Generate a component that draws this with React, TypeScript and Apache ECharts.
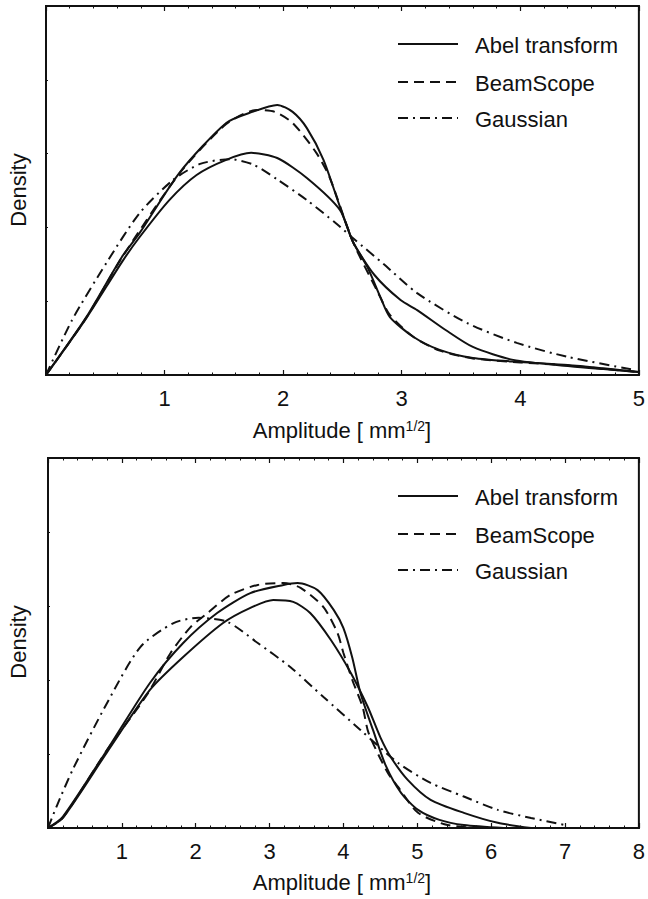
import React, { useEffect, useRef } from "react";
import * as echarts from "echarts";

// ---------- data (relative density) ----------
const topXTicks = [1, 2, 3, 4, 5];
const bottomXTicks = [1, 2, 3, 4, 5, 6, 7, 8];

const topAbelHigh: [number, number][] = [
  [0, 0], [0.34, 0.157], [0.64, 0.32], [0.79, 0.385], [1.13, 0.55], [1.52, 0.683],
  [1.74, 0.713], [1.95, 0.732], [2.08, 0.713], [2.2, 0.669], [2.34, 0.583],
  [2.48, 0.455], [2.59, 0.36], [2.71, 0.293], [2.82, 0.211], [2.9, 0.157],
  [3.1, 0.103], [3.32, 0.068], [3.6, 0.046], [4.0, 0.035], [4.4, 0.027],
  [4.7, 0.018], [5.0, 0.008],
];
const topAbelLow: [number, number][] = [
  [0, 0], [0.34, 0.154], [0.64, 0.306], [0.79, 0.374], [1.04, 0.474], [1.27, 0.542],
  [1.52, 0.583], [1.73, 0.602], [1.95, 0.588], [2.2, 0.534], [2.48, 0.447],
  [2.59, 0.36], [2.77, 0.271], [2.99, 0.203], [3.13, 0.176], [3.37, 0.122],
  [3.6, 0.076], [3.94, 0.041], [4.42, 0.024], [4.7, 0.016], [5.0, 0.008],
];
const topBeamScope: [number, number][] = [
  [0, 0], [0.34, 0.155], [0.64, 0.318], [1.13, 0.548], [1.52, 0.68], [1.78, 0.718],
  [1.93, 0.713], [2.08, 0.683], [2.28, 0.602], [2.39, 0.537], [2.59, 0.36],
  [2.79, 0.23], [2.9, 0.163], [3.1, 0.103], [3.32, 0.066], [3.6, 0.045],
  [4.0, 0.034], [4.4, 0.026], [4.7, 0.017], [5.0, 0.008],
];
const topGaussian: [number, number][] = [
  [0, 0], [0.22, 0.149], [0.51, 0.304], [0.79, 0.439], [1.07, 0.528], [1.3, 0.572],
  [1.55, 0.585], [1.75, 0.57], [1.95, 0.53], [2.2, 0.474], [2.45, 0.41],
  [2.6, 0.368], [2.85, 0.3], [3.13, 0.222], [3.55, 0.141], [3.97, 0.087],
  [4.4, 0.049], [4.96, 0.014],
];

const bottomAbelHigh: [number, number][] = [
  [0, 0], [0.2, 0.03], [0.8, 0.211], [1.38, 0.392], [1.83, 0.5], [2.29, 0.581],
  [2.74, 0.635], [3.19, 0.657], [3.38, 0.662], [3.65, 0.643], [3.87, 0.589],
  [4.0, 0.54], [4.12, 0.46], [4.23, 0.365], [4.4, 0.265], [4.57, 0.17],
  [4.78, 0.095], [5.01, 0.049], [5.3, 0.022], [5.63, 0.008], [6.17, 0],
];
const bottomAbelLow: [number, number][] = [
  [0, 0], [0.2, 0.027], [0.8, 0.205], [1.38, 0.373], [1.83, 0.462], [2.37, 0.554],
  [2.74, 0.595], [3.05, 0.616], [3.32, 0.611], [3.55, 0.581], [3.83, 0.508],
  [4.1, 0.419], [4.33, 0.327], [4.5, 0.245], [4.64, 0.192], [4.87, 0.13],
  [5.18, 0.076], [5.63, 0.041], [6.09, 0.014], [6.54, 0],
];
const bottomBeamScope: [number, number][] = [
  [0, 0], [0.2, 0.027], [0.8, 0.211], [1.34, 0.36], [1.66, 0.473], [1.93, 0.543],
  [2.16, 0.581], [2.47, 0.63], [2.84, 0.657], [3.19, 0.662], [3.42, 0.649],
  [3.73, 0.597], [3.92, 0.527], [4.0, 0.473], [4.12, 0.4], [4.26, 0.327],
  [4.34, 0.257], [4.6, 0.149], [4.74, 0.111], [5.01, 0.041], [5.41, 0.008],
  [5.86, 0],
];
const bottomGaussian: [number, number][] = [
  [0, 0], [0.12, 0.06], [0.34, 0.16], [0.8, 0.338], [1.25, 0.489], [1.7, 0.554],
  [2.04, 0.568], [2.43, 0.557], [2.84, 0.5], [3.28, 0.435], [3.73, 0.354],
  [4.23, 0.265], [4.74, 0.176], [5.18, 0.122], [5.63, 0.085], [6.09, 0.049],
  [6.54, 0.027], [7.0, 0.008],
];

const legendNames = ["Abel transform", "BeamScope", "Gaussian"];

// ---------- styles ----------
const FONT = "Liberation Sans, Arial, Helvetica, sans-serif";
const INK = "#111";
const DASH = [10, 6];
const DASHDOT = [10, 5, 2, 5];

function lineSeries(data: [number, number][], idx: number, dash: any) {
  return {
    type: "line",
    xAxisIndex: idx * 2,
    yAxisIndex: idx,
    data,
    showSymbol: false,
    symbol: "none",
    smooth: 0.25,
    lineStyle: { color: INK, width: 2, type: dash },
    z: 3,
  };
}

function xAxes(gridIndex: number, max: number, ticks: number[]) {
  const common = {
    gridIndex,
    type: "value",
    min: 0,
    max,
    interval: 1,
    splitLine: { show: false },
    axisLine: { show: true, onZero: false, lineStyle: { color: INK, width: 2 } },
    axisTick: { show: true, inside: true, length: 5, lineStyle: { color: INK, width: 1.2 } },
    minorTick: { show: true, splitNumber: 5, length: 2.5, lineStyle: { color: INK, width: 1 } },
  };
  return [
    {
      ...common,
      position: "bottom",
      axisLabel: {
        show: true,
        margin: 12,
        color: INK,
        fontFamily: FONT,
        fontSize: 22,
        lineHeight: 22,
        formatter: (v: number) => (ticks.includes(v) ? String(v) : ""),
      },
    },
    { ...common, position: "top", axisLabel: { show: false } },
  ];
}

function yAxis(gridIndex: number) {
  return {
    gridIndex,
    type: "value",
    min: 0,
    max: 1,
    interval: 0.2,
    splitLine: { show: false },
    axisLabel: { show: false },
    axisLine: { show: true, lineStyle: { color: INK, width: 2 } },
    axisTick: { show: true, inside: true, length: 2, lineStyle: { color: INK, width: 1 } },
  };
}

function legendGraphics(top: number) {
  const rows = [
    { dash: null, y: top + 38 },
    { dash: DASH, y: top + 76 },
    { dash: DASHDOT, y: top + 112 },
  ];
  const out: any[] = [];
  rows.forEach((r, i) => {
    out.push({
      type: "line",
      shape: { x1: 398, y1: r.y, x2: 458, y2: r.y },
      style: { stroke: INK, lineWidth: 2, lineDash: r.dash || undefined },
    });
    out.push({
      type: "text",
      x: 475,
      y: r.y + 1,
      style: {
        text: legendNames[i],
        fill: INK,
        font: `22px ${FONT}`,
        textAlign: "left",
        textVerticalAlign: "middle",
      },
    });
  });
  return out;
}

function axisTitle(y: number) {
  return {
    type: "text",
    x: 342,
    y,
    style: {
      text: "Amplitude [ mm{sup|1/2}]",
      fill: INK,
      font: `22px ${FONT}`,
      textAlign: "center",
      textVerticalAlign: "middle",
      rich: {
        sup: { fontSize: 14, fontFamily: FONT, fill: INK, verticalAlign: "top", padding: [0, 0, 8, 0] },
      },
    },
  };
}

function densityTitle(y: number) {
  return {
    type: "text",
    x: 18,
    y,
    rotation: Math.PI / 2,
    style: {
      text: "Density",
      fill: INK,
      font: `22px ${FONT}`,
      textAlign: "center",
      textVerticalAlign: "middle",
    },
  };
}

export default function App() {
  const ref = useRef<HTMLDivElement>(null);
  useEffect(() => {
    if (!ref.current) return;
    const chart = echarts.init(ref.current, undefined, { renderer: "svg" });
    chart.setOption({
      animation: false,
      backgroundColor: "#fff",
      grid: [
        { left: 46, top: 6, width: 594, height: 369, show: true, borderColor: INK, borderWidth: 2, backgroundColor: "transparent" },
        { left: 48, top: 458, width: 591, height: 370, show: true, borderColor: INK, borderWidth: 2, backgroundColor: "transparent" },
      ],
      xAxis: [...xAxes(0, 5, topXTicks), ...xAxes(1, 8, bottomXTicks)],
      yAxis: [yAxis(0), yAxis(1)],
      series: [
        lineSeries(topAbelHigh, 0, "solid"),
        lineSeries(topAbelLow, 0, "solid"),
        lineSeries(topBeamScope, 0, DASH),
        lineSeries(topGaussian, 0, DASHDOT),
        lineSeries(bottomAbelHigh, 1, "solid"),
        lineSeries(bottomAbelLow, 1, "solid"),
        lineSeries(bottomBeamScope, 1, DASH),
        lineSeries(bottomGaussian, 1, DASHDOT),
      ],
      graphic: [
        ...legendGraphics(6),
        ...legendGraphics(458),
        axisTitle(430),
        axisTitle(882),
        densityTitle(190),
        densityTitle(642),
      ],
    });
    return () => chart.dispose();
  }, []);
  return (
    <div
      ref={ref}
      style={{ position: "absolute", left: 0, top: 0, width: 648, height: 899, background: "#fff" }}
    />
  );
}
